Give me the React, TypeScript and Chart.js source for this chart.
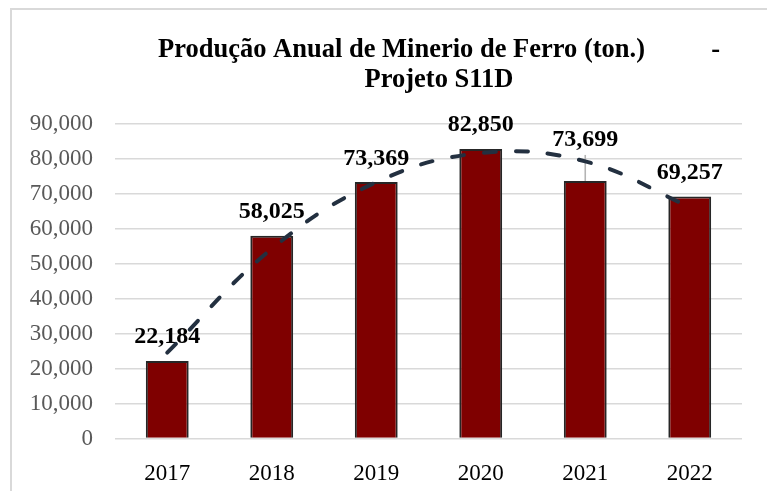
import React, { useEffect, useRef } from 'react';
import { Chart, registerables } from 'chart.js';

Chart.register(...registerables);

const YEARS = ['2017', '2018', '2019', '2020', '2021', '2022'];
const PRODUCTION = [22184, 58025, 73369, 82850, 73699, 69257];
// polynomial trendline values read at each year
const TREND = [24560, 54290, 73320, 81660, 79300, 66260];
// error bar (plus) shown on 2021
const ERROR_PLUS = [0, 0, 0, 0, 7450, 0];
const Y_MIN = 0;
const Y_MAX = 90000;
const Y_STEP = 10000;
const TITLE_LINES = ['Produção Anual de Minerio de Ferro (ton.)          -', 'Projeto S11D'];

const SERIF = '"Liberation Serif", "Times New Roman", serif';

const framePlugin = {
  id: 'frame',
  beforeDraw(chart: any) {
    const { ctx, width, height } = chart;
    ctx.save();
    ctx.fillStyle = '#ffffff';
    ctx.fillRect(0, 0, width, height);
    ctx.strokeStyle = '#d9d9d9';
    ctx.lineWidth = 2;
    ctx.beginPath();
    ctx.moveTo(11, height);
    ctx.lineTo(11, 9);
    ctx.lineTo(width, 9);
    ctx.stroke();
    ctx.restore();
  },
};

const titlePlugin = {
  id: 'customTitle',
  afterDraw(chart: any) {
    const ctx = chart.ctx;
    ctx.save();
    ctx.font = `bold 26.5px ${SERIF}`;
    ctx.fillStyle = '#000000';
    ctx.textAlign = 'center';
    ctx.textBaseline = 'alphabetic';
    TITLE_LINES.forEach((line, i) => {
      ctx.fillText(line, 439, 57 + i * 30.3);
    });
    ctx.restore();
  },
};

const labelsPlugin = {
  id: 'barLabels',
  afterDatasetDraw(chart: any, args: any) {
    if (args.index !== 0) return;
    const ctx = chart.ctx;
    const yScale = chart.scales.y;
    ctx.save();
    args.meta.data.forEach((bar: any, i: number) => {
      const x = bar.x;
      let anchor = bar.y - 17.5;
      if (ERROR_PLUS[i] > 0) {
        const top = yScale.getPixelForValue(PRODUCTION[i] + ERROR_PLUS[i]);
        ctx.strokeStyle = '#b4b4b4';
        ctx.lineWidth = 1.6;
        ctx.beginPath();
        ctx.moveTo(x, bar.y);
        ctx.lineTo(x, top);
        ctx.stroke();
        anchor = top - 8.5;
      }
      ctx.font = `bold 24px ${SERIF}`;
      ctx.fillStyle = '#000000';
      ctx.textAlign = 'center';
      ctx.textBaseline = 'alphabetic';
      ctx.fillText(PRODUCTION[i].toLocaleString('en-US'), x, anchor);
    });
    ctx.restore();
  },
};

export default function App() {
  const ref = useRef<HTMLCanvasElement>(null);

  useEffect(() => {
    document.body.style.margin = '0';
    const canvas = ref.current!;
    const chart = new Chart(canvas, {
      type: 'bar',
      data: {
        labels: YEARS,
        datasets: [
          {
            type: 'bar',
            data: PRODUCTION,
            backgroundColor: '#7f0000',
            borderColor: '#262626',
            borderWidth: 2,
            barPercentage: 0.41,
            categoryPercentage: 1,
            order: 2,
          } as any,
          {
            type: 'line',
            data: TREND,
            borderColor: '#233040',
            borderWidth: 4,
            borderDash: [12, 20],
            borderCapStyle: 'round',
            pointRadius: 0,
            tension: 0.4,
            fill: false,
            order: 1,
          } as any,
        ],
      },
      options: {
        responsive: false,
        animation: false,
        devicePixelRatio: 1,
        layout: { padding: { left: 0, right: 25, top: 124, bottom: 0 } },
        plugins: {
          legend: { display: false },
          tooltip: { enabled: false },
          title: { display: false },
        },
        scales: {
          x: {
            grid: { display: false },
            border: { display: false },
            ticks: {
              color: '#000000',
              font: { family: SERIF, size: 23 },
              padding: 14,
            },
            afterFit(scale: any) {
              scale.height = 52.5;
            },
          },
          y: {
            min: Y_MIN,
            max: Y_MAX,
            grid: { color: '#d9d9d9', lineWidth: 1.5, drawTicks: false },
            border: { display: false },
            ticks: {
              stepSize: Y_STEP,
              color: '#595959',
              font: { family: SERIF, size: 23 },
              padding: 22,
              callback: (v: any) => Number(v).toLocaleString('en-US'),
            },
            afterFit(scale: any) {
              scale.width = 115;
            },
          },
        },
      },
      plugins: [framePlugin, labelsPlugin, titlePlugin],
    });
    return () => chart.destroy();
  }, []);

  return (
    <div style={{ width: 767, height: 491 }}>
      <canvas ref={ref} width={767} height={491} style={{ display: 'block' }} />
    </div>
  );
}
